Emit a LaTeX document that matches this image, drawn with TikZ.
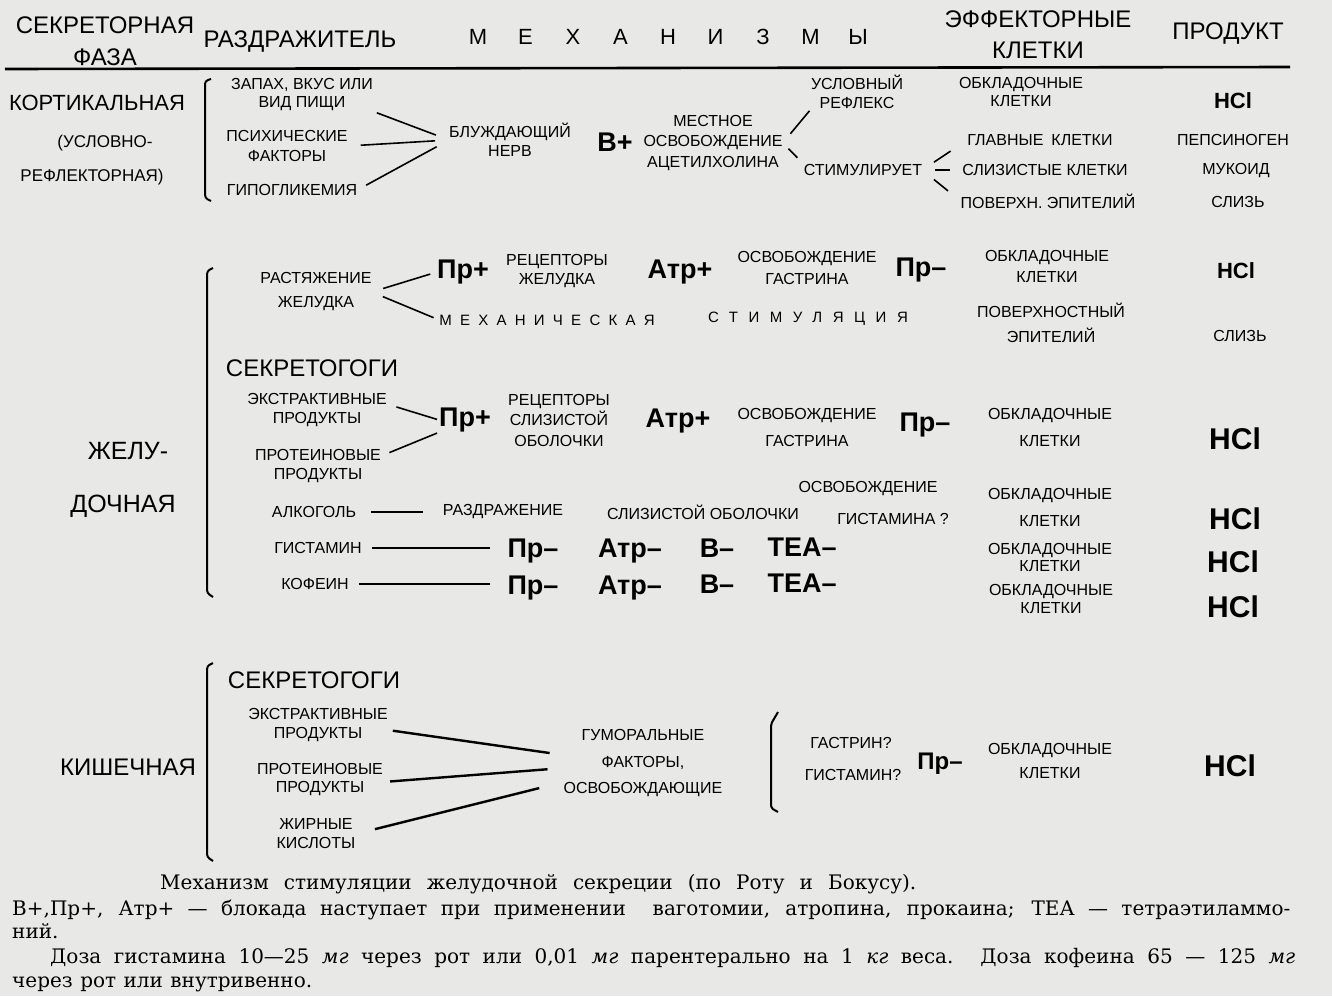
\documentclass[tikz,border=0pt]{standalone}
\usepackage{fontspec}
\setmainfont{DejaVu Serif}
\newfontfamily\labfont{Liberation Sans}
\newfontfamily\spacedfont[LetterSpace=55]{Liberation Sans}
\definecolor{paper}{RGB}{232,232,230}

\begin{document}
\begin{tikzpicture}[
    x=1pt, y=-1pt,
    lbl/.style={font=\labfont\fontsize{16}{19.5}\selectfont, inner sep=0pt, align=center},
    sub/.style={font=\labfont\fontsize{17}{20}\selectfont, inner sep=0pt},
    head/.style={font=\labfont\fontsize{24}{31}\selectfont, inner sep=0pt, align=center},
    phase/.style={font=\labfont\fontsize{22}{26}\selectfont, inner sep=0pt},
    big/.style={font=\labfont\fontsize{24}{28}\selectfont, inner sep=0pt},
    drug/.style={font=\labfont\bfseries\fontsize{27}{30}\selectfont, inner sep=0pt},
    rowdrug/.style={drug, anchor=base},
    hcl/.style={font=\labfont\bfseries\fontsize{22}{25}\selectfont, inner sep=0pt},
    hclbig/.style={font=\labfont\bfseries\fontsize{30}{33}\selectfont, inner sep=0pt},
    spaced/.style={font=\spacedfont\fontsize{15}{18}\selectfont, inner sep=0pt},
    capt/.style={font=\fontsize{20}{22}\selectfont, inner sep=0pt, anchor=base west},
    link/.style={line width=1.6pt},
    thick link/.style={line width=2.4pt},
    brace/.style={line width=2pt, rounded corners=3pt},
  ]

  % ---- paper and frame ---------------------------------------------------
  \fill[paper] (0,0) rectangle (1332,996);
  \useasboundingbox (0,0) rectangle (1332,996);

  % ---- column heads -----------------------------------------------------
  \node[head] (phaseHd) at (105,41) {СЕКРЕТОРНАЯ\\[1pt]ФАЗА};
  \node[head] (stimHd)  at (300,42) {РАЗДРАЖИТЕЛЬ};
  \foreach \ch [count=\i] in {М,Е,Х,А,Н,И,З,М,Ы}
    \node[head, font=\labfont\fontsize{22}{26}\selectfont] (mech\i)
      at ({478+47.5*(\i-1)},37) {\ch};
  \node[head] (effHd)   at (1038,35) {ЭФФЕКТОРНЫЕ\\КЛЕТКИ};
  \node[head] (prodHd)  at (1228,34) {ПРОДУКТ};
  \draw[line width=2.6pt] (5,69) -- (1290,67);

  % ---- cortical phase ---------------------------------------------------
  \node[phase] (cort)  at (97,103)  {КОРТИКАЛЬНАЯ};
  \node[sub]   (cortA) at (105,143) {(УСЛОВНО-};
  \node[sub]   (cortB) at (92,177)  {РЕФЛЕКТОРНАЯ)};
  \draw[brace] (211,79) -- (205,81) -- (205,198) -- (211,201);

  \node[lbl] (smell)  at (302,95)  {ЗАПАХ, ВКУС ИЛИ\\[-1.5pt]ВИД ПИЩИ};
  \node[lbl] (psych)  at (287,146) {ПСИХИЧЕСКИЕ\\ФАКТОРЫ};
  \node[lbl] (hypo)   at (292,190) {ГИПОГЛИКЕМИЯ};
  \node[lbl] (vagus)  at (510,140) {БЛУЖДАЮЩИЙ\\НЕРВ};
  \node[drug] (vplus) at (615,142) {В+};
  \node[lbl] (achRel) at (713,143) {МЕСТНОЕ\\[1pt]ОСВОБОЖДЕНИЕ\\[1pt]АЦЕТИЛХОЛИНА};
  \node[lbl] (reflex) at (857,92)  {УСЛОВНЫЙ\\РЕФЛЕКС};
  \node[lbl] (stimul) at (863,170) {СТИМУЛИРУЕТ};

  \node[lbl] (parC)   at (1021,92)  {ОБКЛАДОЧНЫЕ\\[-1.5pt]КЛЕТКИ};
  \node[lbl] (chief)  at (1040,140) {ГЛАВНЫЕ\enspace КЛЕТКИ};
  \node[lbl] (mucous) at (1045,170) {СЛИЗИСТЫЕ КЛЕТКИ};
  \node[lbl] (surfC)  at (1048,201) {ПОВЕРХН. ЭПИТЕЛИЙ};
  \node[hcl] (hclC)   at (1233,101) {HCl};
  \node[lbl] (pepsin) at (1233,140) {ПЕПСИНОГЕН};
  \node[lbl] (mucoid) at (1236,171) {МУКОИД};
  \node[lbl] (mucusC) at (1238,202) {СЛИЗЬ};

  \draw[link, shorten <=4pt, shorten >=14pt]  (smell.south east) -- (vagus.west);
  \draw[link, shorten <=13pt, shorten >=14pt] (psych.east) -- (vagus.west);
  \draw[link, shorten <=10pt, shorten >=14pt] (hypo.east) -- (vagus.west);
  \draw[link, shorten <=12pt, shorten >=2pt]  (achRel.east) -- (reflex.south west);
  \draw[link, shorten <=8pt, shorten >=9pt]   (achRel.east) -- (stimul.north west);
  \draw[link, shorten <=14pt, shorten >=20pt] (stimul.east) -- (chief.west);
  \draw[link, shorten <=13pt, shorten >=12pt] (stimul.east) -- (mucous.west);
  \draw[link, shorten <=15pt, shorten >=16pt] (stimul.east) -- (surfC.west);

  % ---- gastric phase ----------------------------------------------------
  \node[phase, font=\labfont\fontsize{25}{28}\selectfont] (gastA) at (128,451) {ЖЕЛУ-};
  \node[phase, font=\labfont\fontsize{25}{28}\selectfont] (gastB) at (123,506) {ДОЧНАЯ};
  \draw[brace] (213,268) -- (207,271) -- (207,593) -- (213,597);

  % distension of the stomach
  \node[lbl]  (stretch) at (316,292) {РАСТЯЖЕНИЕ\\[4.5pt]ЖЕЛУДКА};
  \node[drug] (pr1)     at (463,272) {Пр+};
  \node[lbl]  (rec1)    at (557,271) {РЕЦЕПТОРЫ\\ЖЕЛУДКА};
  \node[drug] (atr1)    at (680,272) {Атр+};
  \node[lbl]  (gas1)    at (807,268) {ОСВОБОЖДЕНИЕ\\[2.5pt]ГАСТРИНА};
  \node[drug] (prm1)    at (921,270) {Пр–};
  \node[lbl]  (parG1)   at (1047,266) {ОБКЛАДОЧНЫЕ\\[1.5pt]КЛЕТКИ};
  \node[hcl]  (hclG1)   at (1236,271) {HCl};
  \node[spaced] (mech)  at (547,320) {МЕХАНИЧЕСКАЯ};
  \node[spaced, font=\spacedfont\fontsize{15}{18}\selectfont\addfontfeature{LetterSpace=70}]
    (mstim) at (808,319) {СТИМУЛЯЦИЯ};
  \node[lbl]  (surfG)   at (1051,323) {ПОВЕРХНОСТНЫЙ\\[5.5pt]ЭПИТЕЛИЙ};
  \node[lbl]  (mucusG)  at (1240,336) {СЛИЗЬ};

  \draw[link, shorten <=12pt, shorten >=7pt] (stretch.east) -- (pr1.west);
  \draw[link, shorten <=12pt, shorten >=6pt] (stretch.east) -- (mech.west);

  % secretagogues
  \node[big]  (secrG) at (312,368) {СЕКРЕТОГОГИ};
  \node[lbl]  (extrG) at (317,410) {ЭКСТРАКТИВНЫЕ\\ПРОДУКТЫ};
  \node[lbl]  (protG) at (318,466) {ПРОТЕИНОВЫЕ\\ПРОДУКТЫ};
  \node[drug] (pr2)   at (465,420) {Пр+};
  \node[lbl]  (rec2)  at (559,420) {РЕЦЕПТОРЫ\\[1pt]СЛИЗИСТОЙ\\[1pt]ОБОЛОЧКИ};
  \node[drug] (atr2)  at (678,421) {Атр+};
  \node[lbl]  (gas2)  at (807,427) {ОСВОБОЖДЕНИЕ\\[7.5pt]ГАСТРИНА};
  \node[drug] (prm2)  at (925,425) {Пр–};
  \node[lbl]  (parG2) at (1050,427) {ОБКЛАДОЧНЫЕ\\[7.5pt]КЛЕТКИ};
  \node[hclbig] (hclG2) at (1235,439) {HCl};

  \draw[link, shorten <=10pt, shorten >=2pt] ([yshift=6pt]extrG.east) -- (pr2.west);
  \draw[link, shorten <=9pt, shorten >=2pt]  ([yshift=10pt]protG.east) -- (pr2.south west);

  % alcohol, histamine, caffeine
  \node[lbl] (alc)    at (314,512) {АЛКОГОЛЬ};
  \node[lbl] (irrit)  at (503,512) {РАЗДРАЖЕНИЕ};
  \node[lbl] (mucosa) at (703,512) {СЛИЗИСТОЙ ОБОЛОЧКИ};
  \node[lbl] (hrelA)  at (868,488) {ОСВОБОЖДЕНИЕ};
  \node[lbl] (hrelB)  at (893,519) {ГИСТАМИНА ?};
  \node[lbl] (parG3)  at (1050,507) {ОБКЛАДОЧНЫЕ\\[7.5pt]КЛЕТКИ};
  \node[hclbig] (hclG3) at (1235,519) {HCl};
  \draw[link, shorten <=15pt, shorten >=20pt] (alc.east) -- (alc.east -| irrit.west);

  \node[lbl]     (histN) at (318,548) {ГИСТАМИН};
  \node[rowdrug] (prm3)  at (533,557) {Пр–};
  \node[rowdrug] (atrm3) at (630,557) {Атр–};
  \node[rowdrug] (bm3)   at (717,557) {В–};
  \node[rowdrug] (tea3)  at (802,556) {ТЕА–};
  \node[lbl]     (parG4) at (1050,557) {ОБКЛАДОЧНЫЕ\\[-2.5pt]КЛЕТКИ};
  \node[hclbig]  (hclG4) at (1233,562) {HCl};
  \draw[link, shorten <=10pt, shorten >=17pt] (histN.east) -- (histN.east -| prm3.west);

  \node[lbl]     (caf)   at (315,584) {КОФЕИН};
  \node[rowdrug] (prm4)  at (533,594) {Пр–};
  \node[rowdrug] (atrm4) at (630,594) {Атр–};
  \node[rowdrug] (bm4)   at (717,593) {В–};
  \node[rowdrug] (tea4)  at (802,592) {ТЕА–};
  \node[lbl]     (parG5) at (1051,599) {ОБКЛАДОЧНЫЕ\\[-1.5pt]КЛЕТКИ};
  \node[hclbig]  (hclG5) at (1233,607) {HCl};
  \draw[link, shorten <=10pt, shorten >=17pt] (caf.east) -- (caf.east -| prm4.west);

  % ---- intestinal phase -------------------------------------------------
  \node[big] (kish) at (128,767) {КИШЕЧНАЯ};
  \draw[brace] (213,663) -- (207,666) -- (207,857) -- (213,861);

  \node[big] (secrI) at (314,680) {СЕКРЕТОГОГИ};
  \node[lbl] (extrI) at (318,725) {ЭКСТРАКТИВНЫЕ\\ПРОДУКТЫ};
  \node[lbl] (protI) at (320,779) {ПРОТЕИНОВЫЕ\\[-1.5pt]ПРОДУКТЫ};
  \node[lbl] (fatI)  at (316,834) {ЖИРНЫЕ\\[-0.5pt]КИСЛОТЫ};
  \node[lbl] (humor) at (643,763) {ГУМОРАЛЬНЫЕ\\[7pt]ФАКТОРЫ,\\[7pt]ОСВОБОЖДАЮЩИЕ};

  \draw[thick link, shorten <=5pt, shorten >=14pt]
    ([yshift=-5pt]extrI.east) -- ([yshift=8pt]humor.west);
  \draw[thick link, shorten <=7pt, shorten >=16pt]
    ([yshift=-3pt]protI.east) -- ([yshift=-5pt]humor.west);
  \draw[thick link, shorten <=20pt, shorten >=25pt]
    (fatI.east) -- ([yshift=-19pt]humor.west);

  \draw[brace, rounded corners=2pt] (778,712) -- (771,724) -- (771,808) -- (778,812);
  \node[lbl] (gastQ) at (851,743) {ГАСТРИН?};
  \node[lbl] (histQ) at (853,775) {ГИСТАМИН?};
  \node[drug, font=\labfont\bfseries\fontsize{24}{27}\selectfont] (prm5) at (940,764) {Пр–};
  \node[lbl] (parI)  at (1050,761) {ОБКЛАДОЧНЫЕ\\[4.5pt]КЛЕТКИ};
  \node[hclbig] (hclI) at (1230,766) {HCl};

  % ---- caption ----------------------------------------------------------
  \node[capt] (capA) at (160,889)
    {\makebox[756pt][s]{Механизм стимуляции желудочной секреции (по Роту и Бокусу).}};
  \node[capt] (capB) at (12,915)
    {\makebox[1278pt][s]{В+,Пр+, Атр+ — блокада наступает при применении\ \ ваготомии, атропина, прокаина; ТЕА — тетраэтиламмо-}};
  \node[capt] (capC) at (12,938) {ний.};
  \node[capt] (capD) at (50,963)
    {\makebox[1245pt][s]{Доза гистамина 10—25 \textit{мг} через рот или 0,01 \textit{мг} парентерально на 1 \textit{кг} веса. Доза кофеина 65 — 125 \textit{мг}}};
  \node[capt] (capE) at (12,987)
    {\makebox[300pt][s]{через рот или внутривенно.}};

\end{tikzpicture}
\end{document}
